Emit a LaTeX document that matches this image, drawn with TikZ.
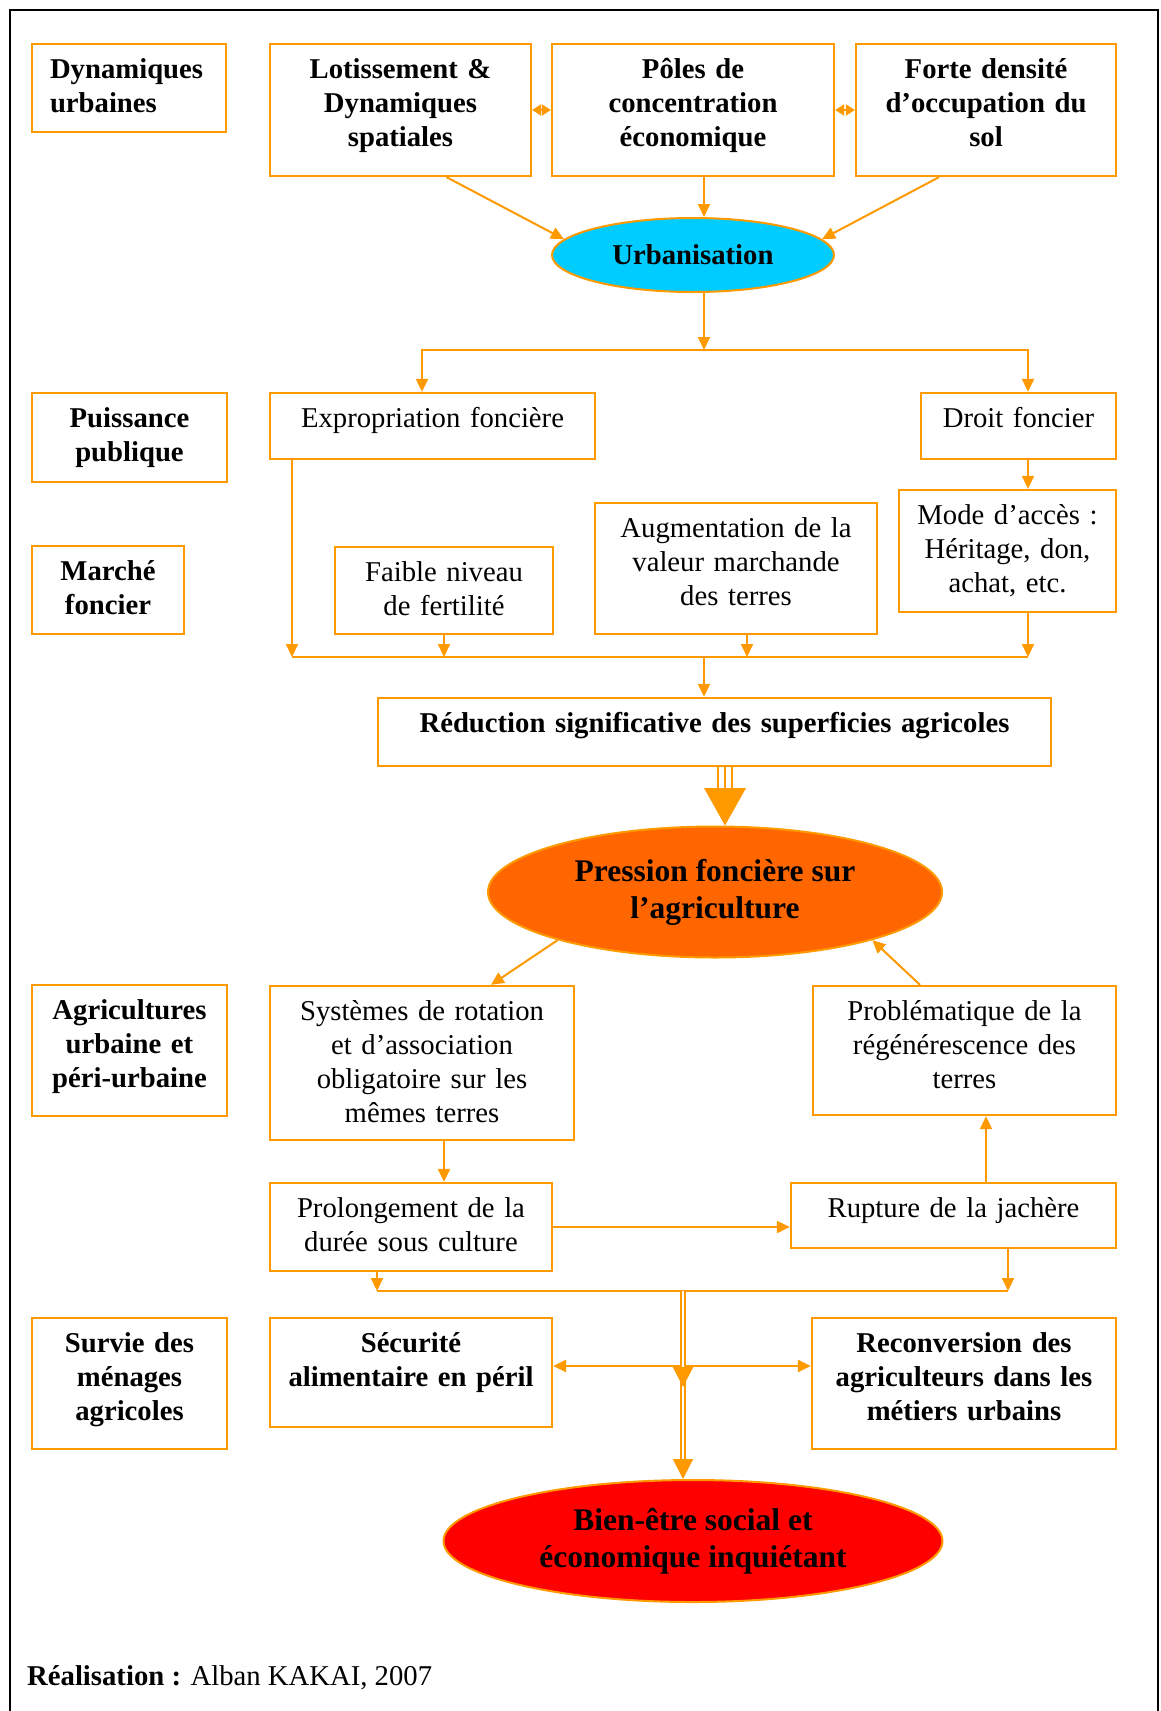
\documentclass[tikz,border=0pt]{standalone}
\usepackage{fontspec}
\setmainfont{Liberation Serif}
\usetikzlibrary{arrows.meta,calc,shapes.geometric}
\definecolor{org}{RGB}{255,153,0}
\definecolor{cyanf}{RGB}{0,204,255}
\definecolor{presf}{RGB}{255,102,0}
\definecolor{redf}{RGB}{255,0,0}
\newcommand\tstrut{\rule{0pt}{26pt}}
\tikzset{
 rbox/.style={draw=org, line width=2.3pt, rectangle, inner sep=0pt, fill=white},
 rtext/.style={inner sep=0pt, anchor=north, align=center, font=\fontsize{28.7}{34}\selectfont},
 btext/.style={rtext, font=\fontsize{28.7}{34}\selectfont\bfseries},
 conn/.style={draw=org, line width=2pt},
 arr/.style={conn, -{Triangle[length=13pt,width=12pt]}},
 darr/.style={conn, {Triangle[length=13pt,width=12pt]}-{Triangle[length=13pt,width=12pt]}},
 sdarr/.style={conn, {Triangle[length=9pt,width=11pt]}-{Triangle[length=9pt,width=11pt]}},
 bigtip/.style={conn, -{Triangle[length=20pt,width=20pt]}},
 dbl/.style={draw=org, line width=1.5pt, double=white, double distance=2.5pt},
 ell/.style={ellipse, draw=org, line width=2pt, inner sep=0pt, align=center},
 efont/.style={font=\fontsize{31.5}{37}\selectfont\bfseries},
}
\newcommand\rbox[7][rtext]{%
 \pgfmathsetmacro\bw{#5-#3}%
 \pgfmathsetmacro\bh{#6-#4}%
 \pgfmathsetmacro\tw{#5-#3-12}%
 \node[rbox, minimum width=\bw pt, minimum height=\bh pt] (#2) at ({(#3+#5)/2},{(#4+#6)/2}) {};
 \node[#1, text width=\tw pt] (#2-t) at ($(#2.north)+(0,9)$) {\tstrut #7};
}
\begin{document}
\begin{tikzpicture}[x=1pt,y=-1pt]
\useasboundingbox (0,0) rectangle (1160,1711);
\fill[white] (0,0) rectangle (1160,1711);
\draw[black, line width=2.5pt] (10,1740) -- (10,10) -- (1158,10) -- (1158,1740);

% left labels
\rbox[btext,align=left,xshift=12pt]{dyn}{32}{44}{226}{132}{Dynamiques\\urbaines}
\rbox[btext]{pui}{32}{393}{227}{482}{Puissance\\publique}
\rbox[btext]{mar}{32}{546}{184}{634}{Marché\\foncier}
\rbox[btext]{agr}{32}{985}{227}{1116}{Agricultures\\urbaine et\\péri-urbaine}
\rbox[btext]{sur}{32}{1318}{227}{1449}{Survie des\\ménages\\agricoles}

% top row
\rbox[btext]{lot}{270}{44}{531}{176}{Lotissement \&\\Dynamiques\\spatiales}
\rbox[btext]{pol}{552}{44}{834}{176}{Pôles de\\concentration\\économique}
\rbox[btext]{fort}{856}{44}{1116}{176}{Forte densité\\d’occupation du\\sol}

\node[ell, fill=cyanf, minimum width=282pt, minimum height=74pt, font=\fontsize{28.7}{34}\selectfont\bfseries] (urb) at (693,255) {Urbanisation};

% middle
\rbox{exp}{270}{393}{595}{459}{Expropriation foncière}
\rbox{dro}{921}{393}{1116}{459}{Droit foncier}
\rbox{mod}{899}{490}{1116}{612}{Mode d’accès :\\Héritage, don,\\achat, etc.}
\rbox{aug}{595}{503}{877}{634}{Augmentation de la\\valeur marchande\\des terres}
\rbox{fai}{335}{547}{553}{634}{Faible niveau\\de fertilité}
\rbox[btext]{red}{378}{698}{1051}{766}{Réduction significative des superficies agricoles}

\node[ell, fill=presf, minimum width=454pt, minimum height=131pt, efont] (pre) at (715,892) {Pression foncière sur\\l’agriculture};

% lower
\rbox{sys}{270}{986}{574}{1140}{Systèmes de rotation\\et d’association\\obligatoire sur les\\mêmes terres}
\rbox{prob}{813}{986}{1116}{1115}{Problématique de la\\régénérescence des\\terres}
\rbox{prol}{270}{1183}{552}{1271}{Prolongement de la\\durée sous culture}
\rbox{rup}{791}{1183}{1116}{1248}{Rupture de la jachère}
\rbox[btext]{sec}{270}{1318}{552}{1427}{Sécurité\\alimentaire en péril}
\rbox[btext]{rec}{812}{1318}{1116}{1449}{Reconversion des\\agriculteurs dans les\\métiers urbains}

\node[ell, fill=redf, minimum width=499pt, minimum height=122pt, efont] (bie) at (693,1541) {Bien-être social et\\économique inquiétant};

\node[anchor=base west, inner sep=0pt, font=\fontsize{28.7}{34}\selectfont] (real) at (27,1685) {\textbf{Réalisation :} Alban KAKAI, 2007};

% connectors top
\coordinate (sp) at (704,0);
\draw[sdarr] (lot.east) -- (pol.west);
\draw[sdarr] (pol.east) -- (fort.west);
\draw[arr] ([xshift=46pt]lot.south) -- (urb.173);
\draw[arr] (pol.south -| sp) -- (urb.north -| sp);
\draw[arr] ([xshift=-47pt]fort.south) -- (urb.7);

\coordinate (j1) at (704,350);
\draw[arr] (urb.south -| sp) -- (j1);
\draw[darr] ([xshift=-10.5pt]exp.north) |- (j1) -| ([xshift=9.5pt]dro.north);
\coordinate (c1028) at (1028,0);
\draw[arr] (dro.south -| c1028) -- (mod.north -| c1028);

\coordinate (j2) at (704,657);
\coordinate (k1) at (292,657);
\draw[arr] (exp.south -| k1) -- (k1);
\draw[arr] (fai.south) -- (fai.south |- j2);
\draw[arr] ([xshift=11pt]aug.south) -- ([xshift=11pt]aug.south |- j2);
\draw[arr] (mod.south -| c1028) -- (c1028 |- j2);
\draw[conn] (k1) -- (c1028 |- j2);
\draw[arr] (j2) -- (red.north -| j2);

% big arrow
\coordinate (ba) at (725,0);
\coordinate (bb) at (725,788);
\foreach \dx in {-7,0,7}
  \draw[org, line width=1.5pt] ([xshift=\dx pt]red.south -| ba) -- ([xshift=\dx pt]bb);
\fill[org] ([xshift=-21pt]bb) -- ([xshift=21pt]bb) -- (pre.north -| ba) -- cycle;

% lower connectors
\draw[arr] (pre.197) -- ([xshift=69pt]sys.north);
\draw[arr] ([xshift=-44.5pt]prob.north) -- (pre.343);
\draw[arr] ([xshift=22pt]sys.south) -- ([xshift=22pt]sys.south |- prol.north);
\draw[arr] (prol.east) -- (prol.east -| rup.west);
\draw[arr] ([xshift=32.5pt]rup.north) -- ([xshift=32.5pt]rup.north |- prob.south);

\coordinate (j3) at (683,1291);
\draw[arr] ([xshift=-34pt]prol.south) -- ([xshift=-34pt]prol.south |- j3);
\draw[arr] ([xshift=54.5pt]rup.south) -- ([xshift=54.5pt]rup.south |- j3);
\draw[conn] ([xshift=-34pt]prol.south |- j3) -- ([xshift=54.5pt]rup.south |- j3);

\coordinate (h) at (683,1366);
\draw[darr, line width=2.5pt] (sec.east |- h) -- (rec.west |- h);

\coordinate (j4) at (683,1387);
\coordinate (j5) at (bie.north -| j3);
\draw[dbl, shorten >=18pt] (j3) -- (j5);
\draw[bigtip] ([yshift=20pt]j4) -- (j4);
\draw[bigtip] ([yshift=20pt]j5) -- (j5);
\end{tikzpicture}
\end{document}
